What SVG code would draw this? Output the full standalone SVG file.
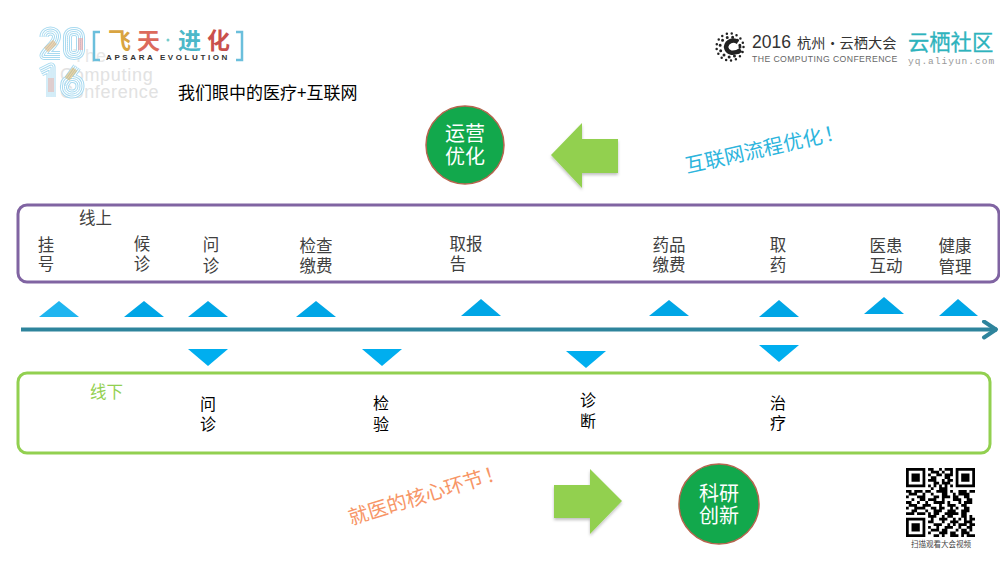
<svg xmlns="http://www.w3.org/2000/svg" width="1000" height="563" viewBox="0 0 1000 563">
<style>
text{font-family:"Noto Sans CJK SC","Liberation Sans",sans-serif}
.l{font-size:16.500px;fill:#404040;text-anchor:middle}
.k{font-size:16px;fill:#000;text-anchor:middle}
.w{font-size:20px;fill:#fff;text-anchor:middle}
.u{fill:#00a6e6}
.d{fill:#00aeef}
.c{fill:#12a84c;stroke:#b5654f;stroke-width:1.5}
.a{fill:#92d050;filter:url(#s)}
.s{font-family:"Liberation Sans",sans-serif}
.r1,.r2,.r3,.r4,.r5{fill:none;stroke-linejoin:round}
.r1{stroke:#a8daf0;stroke-width:9}
.r2{stroke:#fff;stroke-width:7}
.r3{stroke:#a8daf0;stroke-width:5}
.r4{stroke:#fff;stroke-width:3}
.r5{stroke:#a8daf0;stroke-width:1}
</style>
<defs>
<filter id="s" x="-10%" y="-10%" width="125%" height="125%"><feDropShadow dx="0" dy="2" stdDeviation="1.5" flood-color="#000" flood-opacity=".25"/></filter>
<marker id="ah" markerUnits="userSpaceOnUse" markerWidth="22" markerHeight="22" refX="16" refY="10" orient="auto"><path d="M3 2L15 10L3 18" fill="none" stroke="#2e849c" stroke-width="4" stroke-linecap="round" stroke-linejoin="round"/></marker>
<path id="digits" d="M44 37C44 29 57 29 56.500 37C56 44 47 49 44 55.500H60M74 31.500C66 31.500 67.500 38 67.500 43.500C67.500 49 66 55.500 74 55.500C82 55.500 80.500 49 80.500 43.500C80.500 38 82 31.500 74 31.500ZM41 72L51 67V97M77 67L65 84C61 96 80 98 80 86C80 75 63 77 65 86"/>
</defs>
<rect width="1000" height="563" fill="#fff"/>
<g id="event-logo">
<text class="s" x="73" y="62" font-size="18" fill="#e8e8e8" letter-spacing="1">The</text>
<text class="s" x="60" y="81" font-size="18" fill="#e2e2e2" letter-spacing=".7">Computing</text>
<text class="s" x="60" y="98" font-size="18" fill="#e2e2e2" letter-spacing=".6">Conference</text>
<use href="#digits" class="r1"/><use href="#digits" class="r2"/><use href="#digits" class="r3"/><use href="#digits" class="r4"/><use href="#digits" class="r5"/>
<path d="M46 50L55 42" stroke="#e8b070" stroke-width="6" fill="none" opacity=".55"/>
<path d="M80.500 38V50" stroke="#f09a9a" stroke-width="5" fill="none" opacity=".55"/>
<path d="M67 79L75 69" stroke="#d9b060" stroke-width="6" fill="none" opacity=".55"/>
<path d="M51 78V92" stroke="#f0a090" stroke-width="6" fill="none" opacity=".4"/>
<path d="M100 32h-6v28h6M236 32h6v28h-6" fill="none" stroke="#6bbfdc" stroke-width="2.500"/>
<text x="108" y="49" font-size="23" font-weight="700" fill="#d9a441">飞</text>
<text x="137" y="49" font-size="23" font-weight="700" fill="#dc6a5c">天</text>
<circle cx="168" cy="40" r="1.500" fill="#7cc"/>
<text x="178" y="49" font-size="23" font-weight="700" fill="#4db8c9">进</text>
<text x="207" y="49" font-size="23" font-weight="700" fill="#c9504c">化</text>
<text class="s" x="106" y="60" font-size="8" font-weight="700" fill="#333" letter-spacing="2.600">APSARA EVOLUTION</text>
</g>
<g id="title"><text x="178" y="99" font-size="17" fill="#000">我们眼中的医疗+互联网</text></g>
<g id="conference-logo">
<circle cx="730" cy="47" r="13.500" fill="none" stroke="#222" stroke-width="2.500" stroke-dasharray="0 5" stroke-linecap="round"/>
<circle cx="730" cy="47" r="10" fill="none" stroke="#222" stroke-width="3" stroke-dasharray="0 5.500" stroke-linecap="round"/>
<path d="M738 42C733 39 727 41 726 47C727 53 733 55 741 50" fill="none" stroke="#222" stroke-width="4.500"/>
<text x="752" y="48" fill="#333"><tspan class="s" font-size="17.500">2016</tspan><tspan x="797" font-size="14.200">杭州·云栖大会</tspan></text>
<text class="s" x="752" y="62" font-size="8.700" fill="#666" letter-spacing=".4">THE COMPUTING CONFERENCE</text>
<text x="908" y="50" font-size="21.300" fill="#2eb3bd" stroke="#2eb3bd" stroke-width=".3">云栖社区</text>
<text x="908" y="64" font-size="9.500" fill="#999" style="font-family:'Liberation Mono'" letter-spacing="1">yq.aliyun.com</text>
</g>
<g id="ops-node"><circle class="c" cx="465" cy="145" r="39"/><text class="w" x="465" y="141">运营<tspan x="465" dy="23">优化</tspan></text></g>
<g id="left-arrow"><path class="a" d="M618 139H582V123L551 155L582 188V173H618Z"/></g>
<g id="internet-note"><text font-size="20" fill="#2db5dd" transform="translate(687 173) rotate(-12.500)">互联网流程优化<tspan dx="2">！</tspan></text></g>
<g id="online-box"><rect x="18" y="205" width="981" height="77" rx="9" fill="none" stroke="#8064a2" stroke-width="3"/>
<text x="79" y="224" font-size="16.500" fill="#404040">线上</text>
<text class="l" x="46" y="251">挂<tspan x="46" dy="19">号</tspan></text>
<text class="l" x="142" y="250">候<tspan x="142" dy="20">诊</tspan></text>
<text class="l" x="211" y="251">问<tspan x="211" dy="21">诊</tspan></text>
<text class="l" x="316" y="252">检查<tspan x="316" dy="20">缴费</tspan></text>
<text class="l" x="466" y="250">取报<tspan x="458" dy="20">告</tspan></text>
<text class="l" x="669" y="251">药品<tspan x="669" dy="20">缴费</tspan></text>
<text class="l" x="778" y="251">取<tspan x="778" dy="20">药</tspan></text>
<text class="l" x="886" y="252">医患<tspan x="886" dy="20">互动</tspan></text>
<text class="l" x="955" y="252">健康<tspan x="955" dy="21">管理</tspan></text>
</g>
<g id="markers-up">
<path d="M39 317L59 301L79 317Z" fill="#1fb5f0"/>
<path class="u" d="M124 317L144 301L164 317Z"/>
<path class="u" d="M188 317L208 301L228 317Z"/>
<path class="u" d="M296 317L316 301L336 317Z"/>
<path class="u" d="M461 316L481 299L501 316Z"/>
<path class="u" d="M649 316L669 300L689 316Z"/>
<path class="u" d="M759 317L779 300L799 317Z"/>
<path class="u" d="M864 314L884 297L904 314Z"/>
<path class="u" d="M939 316L958 299L978 316Z"/>
</g>
<g id="connectors"><path d="M21 329.500H997" fill="none" stroke="#2e849c" stroke-width="4" marker-end="url(#ah)"/></g>
<g id="markers-down">
<path class="d" d="M188 349L208 366L228 349Z"/>
<path class="d" d="M362 349L382 366L402 349Z"/>
<path class="d" d="M566 351L586 368L606 351Z"/>
<path class="d" d="M759 345L779 362L799 345Z"/>
</g>
<g id="offline-box"><rect x="18" y="373" width="972" height="80" rx="9" fill="none" stroke="#92d050" stroke-width="3"/>
<text x="90" y="398" font-size="16.500" fill="#92d050">线下</text>
<text class="k" x="208" y="410">问<tspan x="208" dy="20">诊</tspan></text>
<text class="k" x="381" y="409">检<tspan x="381" dy="21">验</tspan></text>
<text class="k" x="588" y="406">诊<tspan x="588" dy="21">断</tspan></text>
<text class="k" x="778" y="409">治<tspan x="778" dy="20">疗</tspan></text>
</g>
<g id="core-note"><text font-size="20" fill="#f79667" transform="translate(351 525) rotate(-17)">就医的核心环节<tspan dx="2">！</tspan></text></g>
<g id="right-arrow"><path class="a" d="M554 485H590V469L622 501L590 534V518H554Z"/></g>
<g id="research-node"><circle class="c" cx="719" cy="504" r="40"/><text class="w" x="719" y="501">科研<tspan x="719" dy="22">创新</tspan></text></g>
<g id="qr">
<g transform="translate(906 468) scale(2.760)">
<path fill="#000" fill-rule="evenodd" d="M0 0h7v7h-7zM1 1v5h5v-5zM2 2h3v3h-3zM18 0h7v7h-7zM19 1v5h5v-5zM20 2h3v3h-3zM0 18h7v7h-7zM1 19v5h5v-5zM2 20h3v3h-3z"/>
<path fill="none" stroke="#000" stroke-width="1" d="M8 .5h2m2 0h1m1 0h3M9 1.500h3m1 0h1m2 0h1M8 2.500h1m2 0h2m1 0h3M9 3.500h2m3 0h2M8 4.500h3m2 0h1m1 0h2M10 5.500h2m1 0h3M8 6.500h1m1 0h1m1 0h1m1 0h1m1 0h1M9 7.500h1m2 0h3M0 8.500h2m1 0h3m1 0h2m2 0h4m1 0h1m2 0h3m1 0h2M1 9.500h3m2 0h1m2 0h1m3 0h2m2 0h1m1 0h4M0 10.500h1m3 0h3m3 0h2m1 0h3m1 0h2m2 0h2M2 11.500h1m2 0h2m1 0h3m2 0h1m3 0h3m2 0h2M0 12.500h2m2 0h1m2 0h1m2 0h4m1 0h1m3 0h1m1 0h3M1 13.500h3m2 0h3m3 0h1m2 0h3m2 0h2M0 14.500h1m2 0h4m2 0h2m1 0h2m2 0h1m1 0h1m2 0h2M2 15.500h2m3 0h1m2 0h3m2 0h3m2 0h3M0 16.500h3m1 0h3m1 0h1m1 0h2m2 0h5m1 0h2M8 17.500h3m2 0h1m1 0h2m3 0h2m1 0h1M9 18.500h1m2 0h3m2 0h1m1 0h1m1 0h1m1 0h2M8 19.500h2m3 0h1m2 0h3m2 0h3M10 20.500h3m2 0h1m1 0h1m1 0h3m1 0h2M8 21.500h1m2 0h1m2 0h3m2 0h1m2 0h2M9 22.500h3m1 0h2m3 0h1m1 0h2m1 0h1M8 23.500h1m3 0h3m1 0h2m2 0h3M10 24.500h2m1 0h1m2 0h3m1 0h1m1 0h3"/>
</g>
<text x="941" y="547" font-size="7.500" fill="#444" text-anchor="middle">扫描观看大会视频</text>
</g>
</svg>
